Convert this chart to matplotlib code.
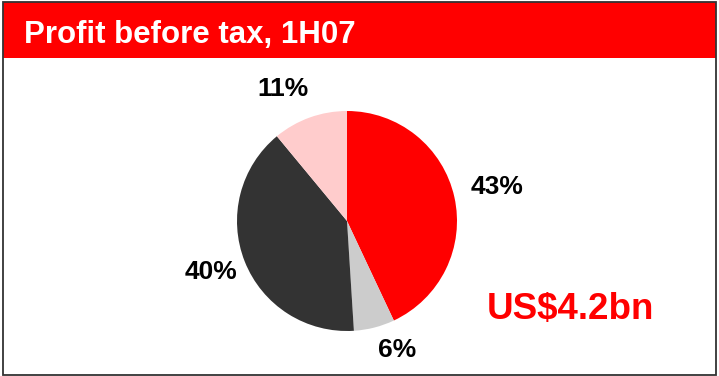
import numpy as np
import matplotlib.pyplot as plt
from matplotlib.patches import Rectangle

plt.rcParams['font.family'] = ['Liberation Sans', 'DejaVu Sans']

# Profit before tax split, 1H07
shares = [43, 6, 40, 11]
labels = ['43%', '6%', '40%', '11%']
colors = ['#FF0000', '#CCCCCC', '#333333', '#FFCCCC']
total_text = 'US$4.2bn'
title = 'Profit before tax, 1H07'

# label placement: radial distance and angular nudge (degrees) per slice
label_dist = [1.40, 1.26, 1.32, 1.33]
label_nudge = [0, 7, -1, 6]

W, H = 719, 376
fig = plt.figure(figsize=(W / 100, H / 100), dpi=100)

# frame and red title bar (pixel coordinates, y from top)
def px(x, y):
    return x / W, 1 - y / H

fig.patches.append(Rectangle(px(3, 58), (716 - 3) / W, (58 - 2) / H,
                             transform=fig.transFigure, facecolor='#FF0000',
                             edgecolor='none', zorder=0))
fig.patches.append(Rectangle(px(3, 375), (716 - 3) / W, (375 - 1.5) / H,
                             transform=fig.transFigure, facecolor='none',
                             edgecolor='#333333', lw=1.3, zorder=5))
fig.text(*px(24, 43), title, color='white', fontsize=22.5,
         fontweight='bold', ha='left', va='baseline')

# pie
cx, cy, r = 347, 221, 110
ax = fig.add_axes([(cx - r) / W, 1 - (cy + r) / H, 2 * r / W, 2 * r / H])
wedges, _ = ax.pie(shares, colors=colors, startangle=90, counterclock=False,
                   wedgeprops=dict(linewidth=0))
for w, lab, d, nudge in zip(wedges, labels, label_dist, label_nudge):
    ang = np.deg2rad((w.theta1 + w.theta2) / 2 + nudge)
    ax.text(d * np.cos(ang), d * np.sin(ang), lab, ha='center', va='center',
            fontsize=19, fontweight='bold', color='black')
ax.set_xlim(-1, 1)
ax.set_ylim(-1, 1)
ax.set_aspect('equal')
ax.axis('off')

fig.text(*px(487, 319), total_text, color='#FF0000', fontsize=26.5,
         fontweight='bold', ha='left', va='baseline')

fig.savefig('out.png', dpi=100)
